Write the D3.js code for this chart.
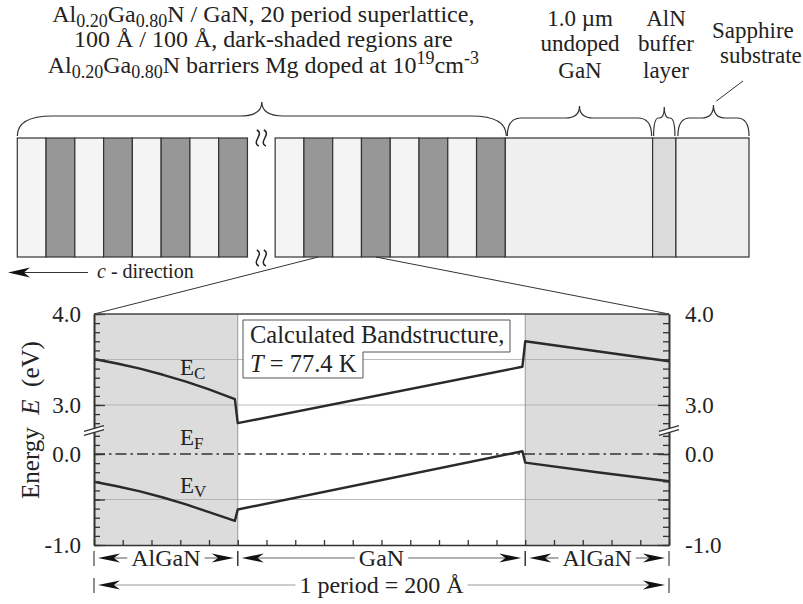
<!DOCTYPE html>
<html>
<head>
<meta charset="utf-8">
<script src="https://cdn.jsdelivr.net/npm/d3@7"></script>
<style>
  body { margin: 0; background: #fff; }
  text { font-family: "Liberation Serif", "Times New Roman", serif; fill: #222; }
</style>
</head>
<body>
<div id="chart"></div>
<script>
// Band edges over one superlattice period (position in Angstrom, energy in eV)
var posA   = [0, 8, 16, 24, 32, 40, 49, 50, 149, 150, 175, 200];
var ecVals = [3.505, 3.456, 3.399, 3.332, 3.256, 3.171, 3.064, 2.80, 3.42, 3.70, 3.59, 3.48];
var evVals = [-0.305, -0.354, -0.411, -0.478, -0.554, -0.639, -0.735, -0.61, 0.03, -0.095, -0.20, -0.30];
var fermiLevel = 0.0;

var regionNames = ["AlGaN", "GaN", "AlGaN"];
var regionEdges = [0, 50, 150, 200];
var yLabelVals = [-1.0, 0.0, 3.0, 4.0];
var yMajorVals = [-1.0, -0.5, 0.0, 3.0, 3.5, 4.0];
var gridVals = [-0.5, 3.0, 3.5];

// sample layer stack, left to right (widths in stripe units)
var layerKind  = ["well", "barrier", "well", "barrier", "well", "barrier", "well", "barrier",
                  "gap",
                  "well", "barrier", "well", "barrier", "well", "barrier", "well", "barrier",
                  "bulk", "aln", "sapphire"];
var layerWidth = [1, 1, 1, 1, 1, 1, 1, 1, 0.963, 1, 1, 1, 1, 1, 1, 1, 1, 5.12, 0.81, 2.54];

var fills = { well: "#f4f4f4", barrier: "#979797", bulk: "#efefef", aln: "#dcdcdc", sapphire: "#efefef" };

var width = 803, height = 604;
var svg = d3.select("#chart").append("svg")
  .attr("width", width)
  .attr("height", height);

// ---------- rich text helper (sub / superscripts) ----------
function rich(sel, parts, size) {
  var shift = 0;
  parts.forEach(function(p) {
    var s = p[1] === "sub" ? size * 0.2 : (p[1] === "sup" ? -size * 0.36 : 0);
    var t = sel.append("tspan").text(p[0]).attr("dy", s - shift);
    if (p[1]) t.attr("font-size", size * 0.75);
    if (p[2]) t.attr("font-style", "italic");
    shift = s;
  });
}

// ---------- layer structure ----------
var total = d3.sum(layerWidth);
var xs = d3.scaleLinear().domain([0, total]).range([17.3, 749]);
var edges = [0];
layerWidth.forEach(function(w, i) { edges.push(edges[i] + w); });
var topY = 138, botY = 257;

var layers = layerKind.map(function(k, i) { return { kind: k, x0: edges[i], x1: edges[i + 1] }; });
svg.append("g").selectAll("rect")
  .data(layers.filter(function(d) { return d.kind !== "gap"; }))
  .enter().append("rect")
  .attr("x", function(d) { return xs(d.x0); })
  .attr("y", topY)
  .attr("width", function(d) { return xs(d.x1) - xs(d.x0); })
  .attr("height", botY - topY)
  .attr("fill", function(d) { return fills[d.kind]; })
  .attr("stroke", "#333")
  .attr("stroke-width", 1.2);

// squiggle break marks
var gapMid = (xs(edges[8]) + xs(edges[9])) / 2;
[topY - 8, botY - 7].forEach(function(y0) {
  [-3.5, 3.5].forEach(function(dx) {
    var cx = gapMid + dx;
    svg.append("path")
      .attr("d", "M" + (cx - 1) + "," + y0 + " C" + (cx + 7) + "," + (y0 + 4) + " " + (cx - 7) + "," + (y0 + 12) + " " + (cx + 1) + "," + (y0 + 16))
      .attr("fill", "none").attr("stroke", "#222").attr("stroke-width", 1.5);
  });
});

// braces
function bracePath(x1, x2, xt, yb, ym, yt, rEnd, rTip) {
  var p = d3.path();
  p.moveTo(x1, yb);
  p.quadraticCurveTo(x1, ym, x1 + rEnd, ym);
  p.lineTo(xt - rTip, ym);
  p.quadraticCurveTo(xt, ym, xt, yt);
  p.quadraticCurveTo(xt, ym, xt + rTip, ym);
  p.lineTo(x2 - rEnd, ym);
  p.quadraticCurveTo(x2, ym, x2, yb);
  return p.toString();
}
var braces = [
  { a: xs(edges[0]), b: xs(edges[17]) + 1, ym: 116, yt: 102, rE: 35, rT: 22 },
  { a: xs(edges[17]) + 2, b: xs(edges[18]) - 1, ym: 118, yt: 106, rE: 14, rT: 14 },
  { a: xs(edges[18]) + 1, b: xs(edges[19]) - 1, ym: 118, yt: 107, rE: 5, rT: 5 },
  { a: xs(edges[19]) + 2, b: xs(edges[20]), ym: 118, yt: 105, rE: 12, rT: 12 }
];
svg.append("g").selectAll("path")
  .data(braces)
  .enter().append("path")
  .attr("d", function(d) { return bracePath(d.a, d.b, (d.a + d.b) / 2, topY - 2, d.ym, d.yt, d.rE, d.rT); })
  .attr("fill", "none")
  .attr("stroke", "#333")
  .attr("stroke-width", 1.2);

// leader line to sapphire label
svg.append("line")
  .attr("x1", (braces[3].a + braces[3].b) / 2 + 3).attr("y1", 101)
  .attr("x2", 743).attr("y2", 81)
  .attr("stroke", "#333").attr("stroke-width", 1);

// ---------- top labels ----------
var titleLines = [
  [["Al"], ["0.20", "sub"], ["Ga"], ["0.80", "sub"], ["N / GaN, 20 period superlattice,"]],
  [["100 Å / 100 Å, dark-shaded regions are"]],
  [["Al"], ["0.20", "sub"], ["Ga"], ["0.80", "sub"], ["N barriers Mg doped at 10"], ["19", "sup"], ["cm"], ["-3", "sup"]]
];
var titleBase = [22, 47, 73];
titleLines.forEach(function(parts, i) {
  var t = svg.append("text")
    .attr("x", (xs(edges[0]) + xs(edges[17])) / 2 + 2)
    .attr("y", titleBase[i])
    .attr("text-anchor", "middle")
    .attr("font-size", 24);
  rich(t, parts, 24);
});

var sideLabels = [
  { lines: ["1.0 µm", "undoped", "GaN"], x: 580, y: [26, 51, 78], anchor: "middle" },
  { lines: ["AlN", "buffer", "layer"], x: 666, y: [26, 51, 78], anchor: "middle" },
  { lines: ["Sapphire"], x: 712, y: [38], anchor: "start" },
  { lines: ["substrate"], x: 720, y: [63], anchor: "start" }
];
sideLabels.forEach(function(s) {
  s.lines.forEach(function(l, i) {
    svg.append("text")
      .attr("x", s.x).attr("y", s.y[i])
      .attr("text-anchor", s.anchor)
      .attr("font-size", 23)
      .text(l);
  });
});

// c-direction arrow
function dart(x, y, dir, len, hw) {
  // dir = -1 points left, +1 points right
  var b = x - dir * len, n = x - dir * len * 0.72;
  return "M" + x + "," + y + " L" + b + "," + (y - hw) + " L" + n + "," + y + " L" + b + "," + (y + hw) + "Z";
}
svg.append("line")
  .attr("x1", 20).attr("y1", 272.5).attr("x2", 88).attr("y2", 272.5)
  .attr("stroke", "#333").attr("stroke-width", 1.2);
svg.append("path").attr("d", dart(8, 272.5, -1, 22, 5)).attr("fill", "#111");
var cdir = svg.append("text").attr("x", 97).attr("y", 278).attr("font-size", 20);
rich(cdir, [["c", null, true], [" - direction"]], 20);

// ---------- band diagram ----------
var x = d3.scaleLinear().domain([0, 200]).range([94, 669]);
var y = d3.scaleLinear().domain([-1, 0.264, 2.725, 4]).range([545, 430, 430, 314]);

// zoom lines
svg.append("line")
  .attr("x1", xs(edges[10] + 0.5)).attr("y1", botY).attr("x2", x(0)).attr("y2", y(4))
  .attr("stroke", "#333").attr("stroke-width", 1);
svg.append("line")
  .attr("x1", xs(edges[12] + 0.5)).attr("y1", botY).attr("x2", x(200)).attr("y2", y(4))
  .attr("stroke", "#333").attr("stroke-width", 1);

// shaded AlGaN regions
var regions = regionNames.map(function(n, i) { return { name: n, a: regionEdges[i], b: regionEdges[i + 1] }; });
svg.append("g").selectAll("rect")
  .data(regions.filter(function(d) { return d.name === "AlGaN"; }))
  .enter().append("rect")
  .attr("x", function(d) { return x(d.a); })
  .attr("y", y(4))
  .attr("width", function(d) { return x(d.b) - x(d.a); })
  .attr("height", y(-1) - y(4))
  .attr("fill", "#dcdcdc");

// gridlines
svg.append("g").selectAll("line")
  .data(gridVals)
  .enter().append("line")
  .attr("x1", x(0)).attr("x2", x(200))
  .attr("y1", function(d) { return y(d); })
  .attr("y2", function(d) { return y(d); })
  .attr("stroke", "#a8a8a8").attr("stroke-width", 0.8);

// region boundaries
svg.append("g").selectAll("line")
  .data([regionEdges[1], regionEdges[2]])
  .enter().append("line")
  .attr("x1", function(d) { return x(d); })
  .attr("x2", function(d) { return x(d); })
  .attr("y1", y(4)).attr("y2", y(-1))
  .attr("stroke", "#999").attr("stroke-width", 1);

// Fermi level
svg.append("line")
  .attr("x1", x(0)).attr("x2", x(200))
  .attr("y1", y(fermiLevel)).attr("y2", y(fermiLevel))
  .attr("stroke", "#333").attr("stroke-width", 1.3)
  .attr("stroke-dasharray", "11,4,2.5,4");

// band edges
var line = d3.line()
  .x(function(d) { return x(d[0]); })
  .y(function(d) { return y(d[1]); });
[ecVals, evVals].forEach(function(vals) {
  svg.append("path")
    .datum(posA.map(function(p, i) { return [p, vals[i]]; }))
    .attr("d", line)
    .attr("fill", "none")
    .attr("stroke", "#2a2a2a")
    .attr("stroke-width", 2.4)
    .attr("stroke-linejoin", "round");
});

// band labels
var bandLabels = [
  { main: "E", sub: "C", v: 3.33 },
  { main: "E", sub: "F", v: 0.10 },
  { main: "E", sub: "V", v: -0.43 }
];
bandLabels.forEach(function(b) {
  var t = svg.append("text")
    .attr("x", x(0) + 86).attr("y", y(b.v))
    .attr("font-size", 23);
  t.append("tspan").text(b.main);
  t.append("tspan").text(b.sub).attr("font-size", 17).attr("dy", 4);
});

// info box
var bx = 243, by = 320;
svg.append("path")
  .attr("d", "M" + bx + "," + by + " H510 V352 H363 V378 H" + bx + " Z")
  .attr("fill", "#fff").attr("stroke", "#555").attr("stroke-width", 1);
svg.append("text").attr("x", 250).attr("y", 343).attr("font-size", 24.5).text("Calculated Bandstructure,");
var tl = svg.append("text").attr("x", 250).attr("y", 372).attr("font-size", 24.5);
rich(tl, [["T", null, true], [" = 77.4 K"]], 24.5);

// axes
var minorTicks = d3.range(-10, 3).map(function(i) { return i / 10; })
  .concat(d3.range(28, 41).map(function(i) { return i / 10; }));
function fmt(d) { return yLabelVals.indexOf(d) >= 0 ? d.toFixed(1) : ""; }

var leftG = svg.append("g").attr("transform", "translate(" + x(0) + ",0)");
leftG.call(d3.axisLeft(y).tickValues(minorTicks).tickSizeInner(-6).tickSizeOuter(0).tickFormat(""));
leftG.append("g").call(d3.axisLeft(y).tickValues(yMajorVals).tickSizeInner(-11).tickSizeOuter(0).tickPadding(13).tickFormat(fmt));

var rightG = svg.append("g").attr("transform", "translate(" + x(200) + ",0)");
rightG.call(d3.axisRight(y).tickValues(minorTicks).tickSizeInner(-6).tickSizeOuter(0).tickFormat(""));
rightG.append("g").call(d3.axisRight(y).tickValues(yMajorVals).tickSizeInner(-11).tickSizeOuter(0).tickPadding(16).tickFormat(fmt));

var bottomG = svg.append("g").attr("transform", "translate(0," + y(-1) + ")");
bottomG.call(d3.axisBottom(x).tickValues(d3.range(0, 201, 10)).tickSizeInner(-5).tickSizeOuter(0).tickFormat(""));

svg.selectAll(".domain").attr("stroke", "#333").attr("stroke-width", 1.6);
svg.selectAll(".tick line").attr("stroke", "#333").attr("stroke-width", 1.3);
svg.selectAll(".tick text")
  .attr("font-family", "'Liberation Serif', 'Times New Roman', serif")
  .attr("font-size", 23).attr("fill", "#222");

// top frame line
svg.append("line")
  .attr("x1", x(0)).attr("x2", x(200)).attr("y1", y(4)).attr("y2", y(4))
  .attr("stroke", "#444").attr("stroke-width", 1.6);

// axis break marks
[x(0), x(200)].forEach(function(ax) {
  var yb = 430;
  svg.append("path")
    .attr("d", "M" + (ax - 9) + "," + (yb + 1) + " L" + (ax + 9) + "," + (yb - 4) + " L" + (ax + 9) + "," + (yb) + " L" + (ax - 9) + "," + (yb + 5) + "Z")
    .attr("fill", "#fff");
  [0, 4].forEach(function(o) {
    svg.append("line")
      .attr("x1", ax - 10).attr("y1", yb + 1.3 + o)
      .attr("x2", ax + 10).attr("y2", yb - 4.3 + o)
      .attr("stroke", "#333").attr("stroke-width", 1.2);
  });
});

// y axis title
var yt = svg.append("text")
  .attr("transform", "translate(39," + 420 + ") rotate(-90)")
  .attr("text-anchor", "middle")
  .attr("font-size", 25)
  .style("white-space", "pre");
rich(yt, [["Energy  "], ["E", null, true], ["  (eV)"]], 25);

// ---------- dimension arrows below ----------
function dimension(a, b, yy, label, lineColor) {
  var g = svg.append("g");
  [a, b].forEach(function(px) {
    g.append("line").attr("x1", px).attr("x2", px).attr("y1", yy - 7).attr("y2", yy + 8)
      .attr("stroke", "#333").attr("stroke-width", 1.1);
  });
  var t = g.append("text").attr("x", (a + b) / 2).attr("y", yy + 8)
    .attr("text-anchor", "middle").attr("font-size", 24).text(label);
  var w = t.node().getComputedTextLength();
  var l = (a + b) / 2 - w / 2 - 4, r = (a + b) / 2 + w / 2 + 4;
  g.append("line").attr("x1", a + 15).attr("x2", l).attr("y1", yy).attr("y2", yy)
    .attr("stroke", lineColor).attr("stroke-width", 1.1);
  g.append("line").attr("x1", r).attr("x2", b - 15).attr("y1", yy).attr("y2", yy)
    .attr("stroke", lineColor).attr("stroke-width", 1.1);
  g.append("path").attr("d", dart(a + 4, yy, -1, 22, 4.5)).attr("fill", "#111");
  g.append("path").attr("d", dart(b - 4, yy, 1, 22, 4.5)).attr("fill", "#111");
}
regions.forEach(function(d) {
  dimension(x(d.a), x(d.b), 558, d.name, "#666");
});
dimension(x(regionEdges[0]), x(regionEdges[3]), 585, "1 period = 200 Å", "#999");
</script>
</body>
</html>
